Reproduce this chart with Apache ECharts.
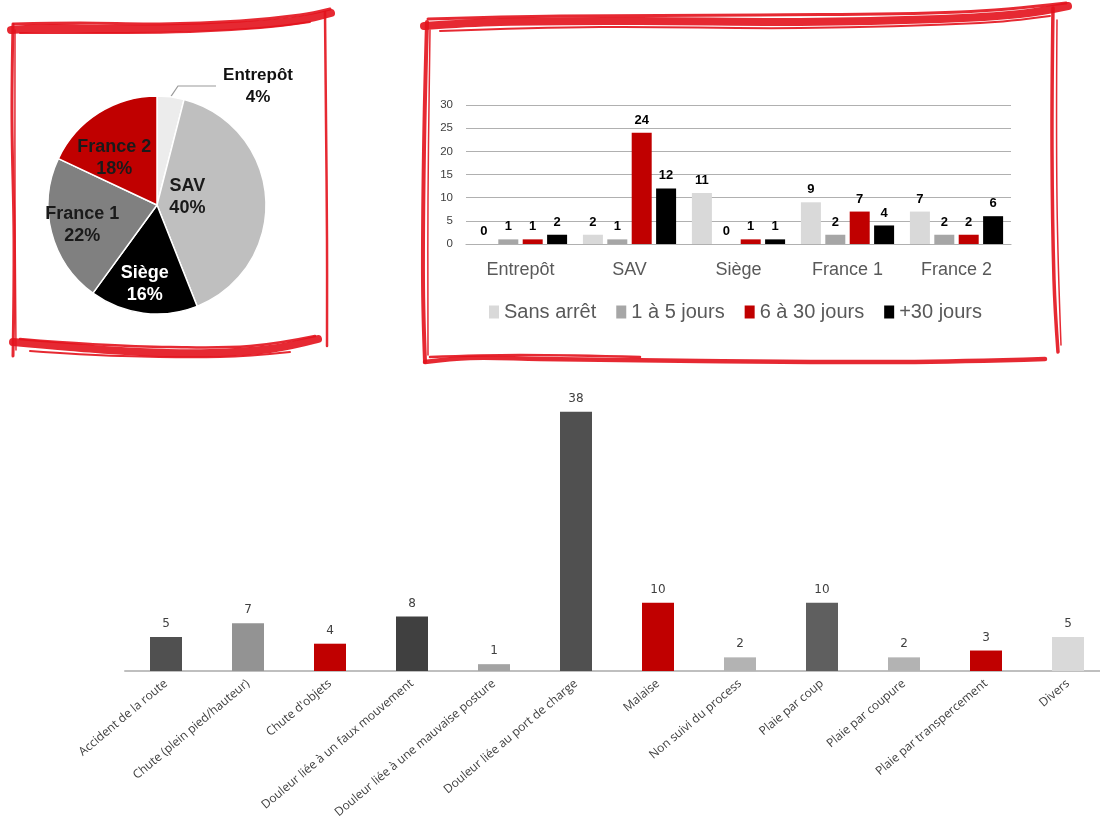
<!DOCTYPE html>
<html>
<head>
<meta charset="utf-8">
<script src="https://cdn.jsdelivr.net/npm/echarts@6/dist/echarts.min.js"></script>
<style>
  html, body { margin: 0; padding: 0; background: #ffffff; }
  #chart { width: 1100px; height: 821px; }
</style>
</head>
<body>
<div id="chart"></div>
<script>
// ---------- DATA ----------
const pieNames = ['Entrepôt', 'SAV', 'Siège', 'France 1', 'France 2'];
const piePercent = [4, 40, 16, 22, 18];

const sites = ['Entrepôt', 'SAV', 'Siège', 'France 1', 'France 2'];
const durationNames = ['Sans arrêt', '1 à 5 jours', '6 à 30 jours', '+30 jours'];
const sansArret = [0, 2, 11, 9, 7];
const unACinqJours = [1, 1, 0, 2, 2];
const sixATrenteJours = [1, 24, 1, 7, 2];
const plusTrenteJours = [2, 12, 1, 4, 6];
const siteAxisTicks = [0, 5, 10, 15, 20, 25, 30];

const causes = [
  'Accident de la route',
  'Chute (plein pied/hauteur)',
  "Chute d'objets",
  'Douleur liée à un faux mouvement',
  'Douleur liée à une mauvaise posture',
  'Douleur liée au port de charge',
  'Malaise',
  'Non suivi du process',
  'Plaie par coup',
  'Plaie par coupure',
  'Plaie par transpercement',
  'Divers'
];
const causeCounts = [5, 7, 4, 8, 1, 38, 10, 2, 10, 2, 3, 5];

// ---------- STYLE ----------
const pieColors = ['#ececec', '#bfbfbf', '#000000', '#808080', '#c00000'];
const pieLabelColors = ['#111111', '#1a1a1a', '#ffffff', '#1a1a1a', '#1a1a1a'];
const pieLabelShift = [[0, 0], [-27, -4], [-5, 22], [-19, 6], [-12, 2]];
const durationColors = ['#d9d9d9', '#a6a6a6', '#c00000', '#000000'];
const causeColors = ['#505050', '#939393', '#c00000', '#404040', '#a3a3a3', '#505050',
                     '#c00000', '#b3b3b3', '#5f5f5f', '#b3b3b3', '#c00000', '#d9d9d9'];
const sans = "'Liberation Sans', Arial, sans-serif";
const frameRed = '#e3121c';

const frameStrokes = [
  // left frame
  { pts: [[11,30],[50,28],[110,29],[180,28],[250,25],[300,20],[331,13]], w: 8 },
  { pts: [[14,24],[80,23],[160,24],[240,21],[300,15],[330,9]], w: 3 },
  { pts: [[20,33],[100,33],[190,32],[260,28],[310,22]], w: 2 },
  { pts: [[13,24],[12,120],[14,240],[13,356]], w: 3 },
  { pts: [[15,30],[15,200],[16,350]], w: 1.5 },
  { pts: [[325,12],[326,120],[327,240],[327,346]], w: 2.5 },
  { pts: [[13,342],[70,347],[140,352],[210,353],[270,349],[318,339]], w: 8 },
  { pts: [[20,339],[90,344],[170,347],[250,346],[315,336]], w: 2.5 },
  { pts: [[30,351],[120,356],[220,357],[290,352]], w: 2 },
  // right frame
  { pts: [[424,26],[500,22],[640,21],[800,22],[940,19],[1020,14],[1068,6]], w: 8 },
  { pts: [[428,19],[560,16],[760,15],[960,12],[1066,3]], w: 3 },
  { pts: [[440,31],[600,27],[800,28],[980,23],[1050,16]], w: 2 },
  { pts: [[427,22],[424,150],[423,280],[425,362]], w: 4 },
  { pts: [[430,30],[428,200],[428,355]], w: 1.5 },
  { pts: [[1053,8],[1052,150],[1054,280],[1058,352]], w: 3.5 },
  { pts: [[1057,20],[1057,200],[1061,345]], w: 1.5 },
  { pts: [[425,362],[470,358],[540,359],[700,361],[900,362],[1045,359]], w: 4.5 },
  { pts: [[430,357],[520,355],[640,357]], w: 2.5 }
];

// ---------- OPTION ----------
const barSeries = [sansArret, unACinqJours, sixATrenteJours, plusTrenteJours].map((vals, i) => ({
  name: durationNames[i],
  type: 'bar',
  xAxisIndex: 0,
  yAxisIndex: 0,
  data: vals,
  barWidth: 20,
  barGap: '22%',
  barCategoryGap: '15%',
  itemStyle: { color: durationColors[i] },
  label: {
    show: true,
    position: 'top',
    distance: 6,
    fontFamily: sans,
    fontWeight: 'bold',
    fontSize: 13,
    color: '#000000'
  }
}));

const option = {
  animation: false,
  backgroundColor: '#ffffff',
  graphic: frameStrokes.map(s => ({
    type: 'polyline',
    shape: { points: s.pts, smooth: 0.4 },
    style: { stroke: frameRed, lineWidth: s.w, fill: null, lineCap: 'round', opacity: 0.9 },
    z: 100
  })),
  legend: {
    data: durationNames,
    left: 484,
    top: 297,
    itemWidth: 10,
    itemHeight: 13,
    itemGap: 20,
    itemTextGap: 7,
    icon: 'rect',
    textStyle: { fontFamily: sans, fontSize: 20, color: '#595959' }
  },
  grid: [
    { left: 466, top: 105, width: 545, height: 139, outerBoundsMode: 'none', containLabel: false },
    { left: 125, top: 398, width: 984, height: 273, outerBoundsMode: 'none', containLabel: false }
  ],
  xAxis: [
    {
      type: 'category',
      gridIndex: 0,
      data: sites,
      axisLine: { lineStyle: { color: '#b0b0b0', width: 1.2 } },
      axisTick: { show: false },
      axisLabel: { interval: 0, fontFamily: sans, fontSize: 18, color: '#595959', margin: 17 }
    },
    {
      type: 'category',
      gridIndex: 1,
      data: causes,
      axisLine: { lineStyle: { color: '#bfbfbf', width: 2 } },
      axisTick: { show: false },
      axisLabel: {
        interval: 0,
        rotate: 40,
        margin: 11,
        fontFamily: "'Open Sans', 'Liberation Sans', sans-serif",
        fontSize: 12,
        color: '#404040'
      }
    }
  ],
  yAxis: [
    {
      type: 'value',
      gridIndex: 0,
      min: siteAxisTicks[0],
      max: siteAxisTicks[siteAxisTicks.length - 1],
      interval: siteAxisTicks[1] - siteAxisTicks[0],
      axisLine: { show: false },
      axisTick: { show: false },
      axisLabel: { fontFamily: sans, fontSize: 11.5, color: '#404040', margin: 13 },
      splitLine: { lineStyle: { color: '#b0b0b0', width: 1.2 } }
    },
    {
      type: 'value',
      gridIndex: 1,
      min: 0,
      max: 40,
      show: false,
      splitLine: { show: false }
    }
  ],
  series: [
    {
      type: 'pie',
      center: [157, 205],
      radius: 109,
      startAngle: 90,
      clockwise: true,
      silent: true,
      itemStyle: { borderColor: '#ffffff', borderWidth: 1.5 },
      label: {
        show: true,
        position: 'inside',
        formatter: '{b}\n{c}%',
        fontFamily: sans,
        fontWeight: 'bold',
        fontSize: 18,
        lineHeight: 22,
        align: 'center'
      },
      labelLayout: function (p) {
        if (p.dataIndex === 0) {
          return { x: 258, y: 86, align: 'center', verticalAlign: 'middle' };
        }
        const s = pieLabelShift[p.dataIndex];
        return { dx: s[0], dy: s[1] };
      },
      data: pieNames.map((n, i) => {
        const item = {
          name: n,
          value: piePercent[i],
          itemStyle: { color: pieColors[i] },
          label: { color: pieLabelColors[i] }
        };
        if (i === 0) {
          item.label = {
            position: 'outside',
            color: '#111111',
            formatter: '{t|{b}}\n{t|{c}%}',
            rich: {
              t: {
                width: 84,
                align: 'center',
                fontFamily: sans,
                fontWeight: 'bold',
                fontSize: 17,
                lineHeight: 22,
                color: '#111111'
              }
            }
          };
          item.labelLine = {
            show: true,
            length: 14,
            length2: 38,
            smooth: false,
            lineStyle: { color: '#9a9a9a', width: 1.2 }
          };
        }
        return item;
      })
    },
    ...barSeries,
    {
      name: 'Causes',
      type: 'bar',
      xAxisIndex: 1,
      yAxisIndex: 1,
      data: causeCounts.map((v, i) => ({ value: v, itemStyle: { color: causeColors[i] } })),
      barWidth: 32,
      label: {
        show: true,
        position: 'top',
        distance: 7,
        fontFamily: "'DejaVu Sans', Verdana, sans-serif",
        fontSize: 12,
        color: '#404040'
      }
    }
  ]
};

const chart = echarts.init(document.getElementById('chart'), null, { renderer: 'canvas' });
chart.setOption(option);
</script>
</body>
</html>
